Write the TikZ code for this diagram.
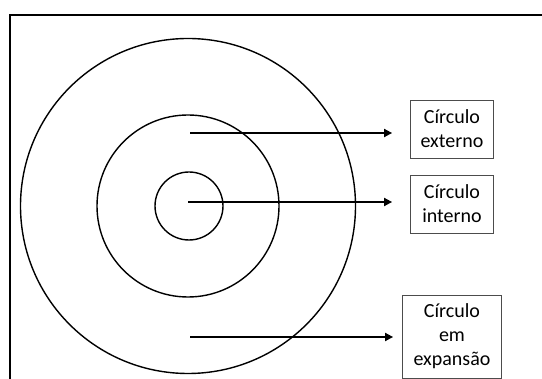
\documentclass[tikz,border=0pt]{standalone}
\usepackage{fontspec}
\setmainfont{Carlito}
\usetikzlibrary{arrows.meta}

\begin{document}
\begin{tikzpicture}[x=1pt,y=-1pt,
    ring/.style={draw,circle,line width=1.4pt,inner sep=0pt},
    labelbox/.style={draw=black!70,line width=0.8pt,align=center,inner sep=0pt,
        font=\fontsize{20}{24}\selectfont},
    pointer/.style={line width=1.8pt,-{Triangle[length=8pt,width=8pt]}}]
    \useasboundingbox (0,0) rectangle (542,379);

    % frame
    \draw[line width=2pt] (542,15) -- (10,15) -- (10,379);

    % circles
    \node[ring,minimum size=335] (outer) at (188,206) {};
    \node[ring,minimum size=182] (middle) at (188,206) {};
    \node[ring,minimum size=68] (inner) at (189,206) {};

    % labels
    \node[labelbox,minimum width=83,minimum height=58] (ext) at (452,129) {Círculo\\externo};
    \node[labelbox,minimum width=83,minimum height=58] (int) at (452,204) {Círculo\\interno};
    \node[labelbox,minimum width=99,minimum height=83] (exp) at (452,336.5) {Círculo\\em\\expansão};

    % arrows
    \coordinate (p1) at (190,133);
    \coordinate (p2) at (188,202);
    \coordinate (p3) at (190,337);
    \draw[pointer,shorten >=18pt] (p1) -- (p1 -| ext.west);
    \draw[pointer,shorten >=18pt] (p2) -- (p2 -| int.west);
    \draw[pointer,shorten >=9pt] (p3) -- (p3 -| exp.west);
\end{tikzpicture}
\end{document}
